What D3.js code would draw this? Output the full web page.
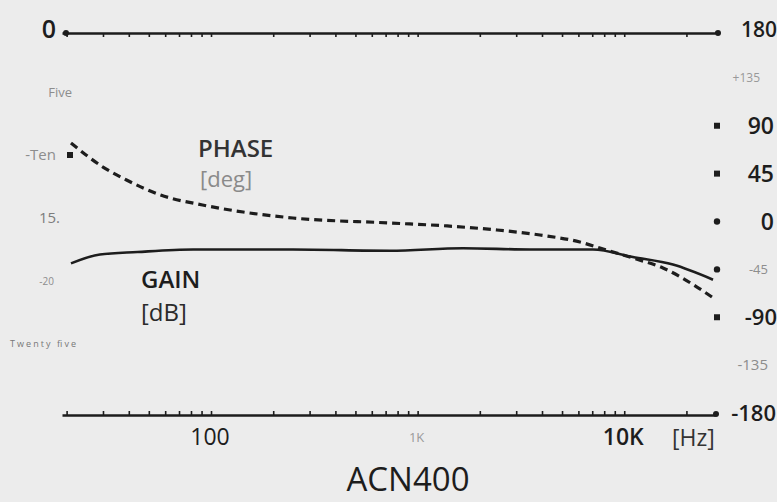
<!DOCTYPE html>
<html>
<head>
<meta charset="utf-8">
<script src="https://cdn.jsdelivr.net/npm/d3@7"></script>
<style>
  body { margin: 0; background: #ececec; }
  svg { display: block; font-family: "Open Sans", sans-serif; }
</style>
</head>
<body>
<svg id="chart" width="777" height="502"></svg>
<script>
// frequency response of the ACN400
const gainFreq = [21, 29, 44, 82, 249, 735, 1660, 3500, 7060, 11000, 17200, 26900];
const gainDb = [-18.6, -17.9, -17.7, -17.5, -17.5, -17.6, -17.4, -17.5, -17.5, -18.1, -18.7, -19.9];

const phaseFreq = [21, 30, 39, 57, 91, 143, 249, 735, 1390, 2420, 3910, 6100, 7630, 11000, 15400, 22500, 26600];
const phaseDeg = [73.8, 51.2, 39, 24.9, 15.5, 8.9, 3.3, -1.4, -4.2, -8, -12.7, -19.3, -24.9, -34.3, -43.7, -61.6, -71];

const freqTicks = [100, 1000, 10000];
const freqTickLabels = ['100', '1K', '10K'];

const gainTicks = [0, -5, -10, -15, -20, -25];
const gainTickLabels = ['0', 'Five', '-Ten', '15.', '-20', 'Twenty five'];

const phaseTicks = [180, 135, 90, 45, 0, -45, -90, -135, -180];
const phaseTickLabels = ['180', '+135', '90', '45', '0', '-45', '-90', '-135', '-180'];
const phaseMarkers = [90, 45, 0, -45, -90];

const svg = d3.select('#chart');
const ink = '#1d1d1d';
const faint = '#8d8d8d';

const x = d3.scaleLog().domain([19, 27500]).range([62, 715]);
const yGain = d3.scaleLinear().domain([0, -30]).range([29, 407]);
const yPhase = d3.scaleLinear().domain([180, -180]).range([30, 413]);

//top and bottom frequency rulers
let topRuler = svg.append('g').attr('transform', 'translate(0,33)')
  .call(d3.axisBottom(x).ticks(10).tickSize(4).tickSizeOuter(0).tickFormat(''));
let bottomRuler = svg.append('g').attr('transform', 'translate(0,415)')
  .call(d3.axisTop(x).ticks(10).tickSize(4).tickSizeOuter(0).tickFormat(''));
[topRuler, bottomRuler].forEach(g => {
  g.select('.domain').attr('stroke', ink).attr('stroke-width', 2.6);
  g.selectAll('.tick line').attr('stroke', ink).attr('stroke-width', 1.6);
});
// end dots on the rulers
svg.append('circle').attr('cx', 66).attr('cy', 33).attr('r', 3).attr('fill', ink);
svg.append('circle').attr('cx', 718).attr('cy', 33).attr('r', 3).attr('fill', ink);
svg.append('line').attr('x1', 715).attr('x2', 719).attr('y1', 33).attr('y2', 33)
  .attr('stroke', ink).attr('stroke-width', 2.6);
svg.append('circle').attr('cx', 716).attr('cy', 414).attr('r', 3).attr('fill', ink);

//frequency labels
const freqStyle = {
  '100': {size: 23, weight: 500, fill: ink, dy: 0},
  '1K': {size: 13, weight: 400, fill: '#9a9a9a', dy: -3},
  '10K': {size: 23, weight: 600, fill: ink, dy: 0}
};
freqTicks.forEach((f, i) => {
  let st = freqStyle[freqTickLabels[i]];
  svg.append('text')
    .attr('x', x(f) - 1)
    .attr('y', 445 + st.dy)
    .attr('text-anchor', 'middle')
    .attr('font-size', st.size)
    .attr('font-weight', st.weight)
    .attr('fill', st.fill)
    .text(freqTickLabels[i]);
});
svg.append('text')
  .attr('x', x(20000) + 7).attr('y', 446)
  .attr('text-anchor', 'middle')
  .attr('font-size', 23).attr('fill', '#333')
  .text('[Hz]');

//left gain labels
const gainStyle = {
  '0': {size: 25, weight: 600, fill: ink, x: 56, anchor: 'end'},
  'Five': {size: 13, weight: 400, fill: faint, x: 72, anchor: 'end'},
  '-Ten': {size: 15, weight: 400, fill: faint, x: 56, anchor: 'end'},
  '15.': {size: 15, weight: 400, fill: '#7d7d7d', x: 60, anchor: 'end'},
  '-20': {size: 10, weight: 400, fill: faint, x: 54, anchor: 'end'},
  'Twenty five': {size: 9, weight: 400, fill: '#777', x: 10, anchor: 'start'}
};
gainTicks.forEach((v, i) => {
  let st = gainStyle[gainTickLabels[i]];
  svg.append('text')
    .attr('x', st.x)
    .attr('y', yGain(v))
    .attr('dy', '0.35em')
    .attr('text-anchor', st.anchor)
    .attr('font-size', st.size)
    .attr('font-weight', st.weight)
    .attr('fill', st.fill)
    .attr('textLength', st.anchor == 'start' ? 66 : null)
    .text(gainTickLabels[i]);
});
// tick square beside -Ten
svg.append('rect').attr('x', 67).attr('y', yGain(-10) - 3).attr('width', 6).attr('height', 6).attr('fill', ink);

//right phase labels
const phaseStyle = {
  '180': {size: 21, fill: ink, x: 777},
  '+135': {size: 12, fill: '#999', x: 760},
  '90': {size: 23, fill: ink, x: 774},
  '45': {size: 23, fill: ink, x: 774},
  '0': {size: 23, fill: ink, x: 774},
  '-45': {size: 13, fill: faint, x: 768},
  '-90': {size: 22, fill: ink, x: 777},
  '-135': {size: 15, fill: faint, x: 768},
  '-180': {size: 22, fill: ink, x: 776}
};
phaseTicks.forEach((v, i) => {
  let st = phaseStyle[phaseTickLabels[i]];
  svg.append('text')
    .attr('x', st.x)
    .attr('y', yPhase(v))
    .attr('dy', '0.35em')
    .attr('text-anchor', 'end')
    .attr('font-size', st.size)
    .attr('font-weight', st.size > 18 ? 600 : 400)
    .attr('fill', st.fill)
    .text(phaseTickLabels[i]);
});
phaseMarkers.forEach(v => {
  if (v == 0 || v == -45)
    svg.append('circle').attr('cx', 717).attr('cy', yPhase(v)).attr('r', 3.2).attr('fill', ink);
  else
    svg.append('rect').attr('x', 714).attr('y', yPhase(v) - 3).attr('width', 6).attr('height', 6).attr('fill', ink);
});

//the curves
const gainLine = d3.line()
  .x((d, i) => x(gainFreq[i]))
  .y(d => yGain(d))
  .curve(d3.curveMonotoneX);
const phaseLine = d3.line()
  .x((d, i) => x(phaseFreq[i]))
  .y(d => yPhase(d))
  .curve(d3.curveMonotoneX);

svg.append('path')
  .attr('d', gainLine(gainDb))
  .attr('fill', 'none')
  .attr('stroke', ink)
  .attr('stroke-width', 2.6);
svg.append('path')
  .attr('d', phaseLine(phaseDeg))
  .attr('fill', 'none')
  .attr('stroke', ink)
  .attr('stroke-width', 3.2)
  .attr('stroke-dasharray', '8,5');

//curve names
svg.append('text').attr('x', 198).attr('y', 157)
  .attr('font-size', 24).attr('font-weight', 600).attr('fill', '#333').text('PHASE');
svg.append('text').attr('x', 200).attr('y', 187)
  .attr('font-size', 22).attr('fill', '#8a8a8a').text('[deg]');
svg.append('text').attr('x', 141).attr('y', 288)
  .attr('font-size', 24).attr('font-weight', 600).attr('fill', ink).text('GAIN');
svg.append('text').attr('x', 141).attr('y', 321)
  .attr('font-size', 24).attr('fill', '#2a2a2a').text('[dB]');

//model name
svg.append('text').attr('x', 408).attr('y', 491)
  .attr('text-anchor', 'middle')
  .attr('font-size', 33).attr('fill', ink)
  .text('ACN400');
</script>
</body>
</html>
